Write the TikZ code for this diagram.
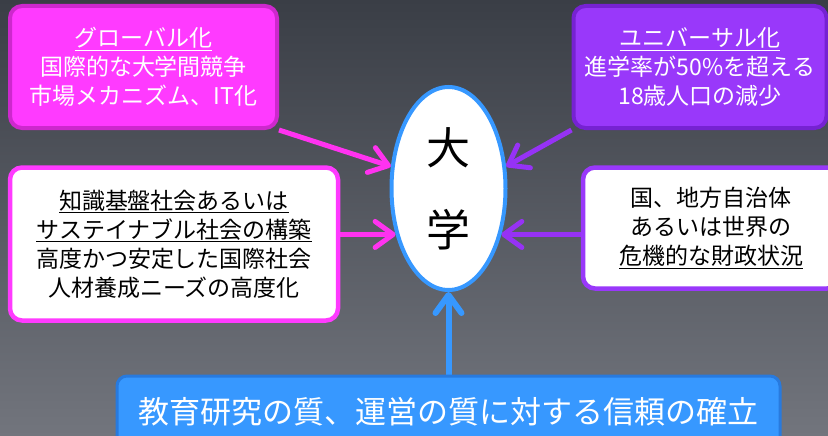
\documentclass[tikz,border=0pt]{standalone}
\usepackage{fontspec}
\setmainfont{Noto Sans CJK JP}
\usetikzlibrary{arrows.meta,shapes.geometric}
\definecolor{bgtop}{RGB}{58,62,70}
\definecolor{bgbot}{RGB}{114,117,125}
\definecolor{magfill}{RGB}{255,58,255}
\definecolor{magline}{RGB}{205,40,205}
\definecolor{magarrow}{RGB}{255,50,240}
\definecolor{purfill}{RGB}{153,56,250}
\definecolor{purline}{RGB}{118,34,210}
\definecolor{purarrow}{RGB}{150,50,245}
\definecolor{bluefill}{RGB}{55,152,255}
\definecolor{blueline}{RGB}{40,122,222}
\pgfdeclarelayer{bg}
\pgfsetlayers{bg,main}
\begin{document}
\begin{tikzpicture}[x=1pt,y=-1pt,
  box/.style={draw, rounded corners=12pt, line width=4pt, align=center, inner sep=0pt,
    font=\fontsize{23}{29}\selectfont},
  link/.style={line width=5pt, -{Straight Barb[length=18pt,width=26pt,round]}}]
\useasboundingbox (0,0) rectangle (828,436);
\clip (0,0) rectangle (828,436);
\begin{pgfonlayer}{bg}
\shade[top color=bgtop, bottom color=bgbot] (0,0) rectangle (828,436);
\end{pgfonlayer}
% nodes
\node[box, draw=magline, fill=magfill, text=white, minimum width=267pt, minimum height=122pt]
  (tl) at (143.5,67) {\underline{グローバル化}\\国際的な大学間競争\\市場メカニズム、IT化};
\node[box, draw=purline, fill=purfill, text=white, minimum width=253pt, minimum height=122pt]
  (tr) at (700,67) {\underline{ユニバーサル化}\\進学率が50\%を超える\\18歳人口の減少};
\node[box, draw=magfill, fill=white, text=black, line width=4.5pt, minimum width=328pt, minimum height=153pt]
  (ml) at (174,244) {\underline{知識基盤社会あるいは}\\\underline{サステイナブル社会の構築}\\高度かつ安定した国際社会\\人材養成ニーズの高度化};
\node[box, draw=purfill, fill=white, text=black, line width=4.5pt, minimum width=256pt, minimum height=121pt]
  (mr) at (711,228) {国、地方自治体\\あるいは世界の\\\underline{危機的な財政状況}};
\node[ellipse, draw=bluefill, fill=white, line width=4pt, minimum width=114pt, minimum height=203pt,
  inner sep=0pt, align=center, font=\fontsize{44}{82}\selectfont]
  (uni) at (448.5,188.5) {大\\学};
\node[box, draw=blueline, fill=bluefill, text=white, line width=3pt, rounded corners=10pt,
  minimum width=663pt, minimum height=72pt, font=\fontsize{31}{36}\selectfont]
  (bot) at (448.5,412) {教育研究の質、運営の質に対する信頼の確立};
% connectors
\begin{pgfonlayer}{bg}
\draw[link, magarrow] (tl.south east) -- (uni.159);
\draw[link, magarrow] (ml.east |- uni.221) -- (uni.221);
\draw[link, purarrow] (tr.south west) -- (uni.21);
\draw[link, purarrow] (mr.west |- uni.-41) -- (uni.-41);
\draw[link, bluefill, line width=6pt] (bot.north) -- (uni.south);
\end{pgfonlayer}
\end{tikzpicture}
\end{document}
